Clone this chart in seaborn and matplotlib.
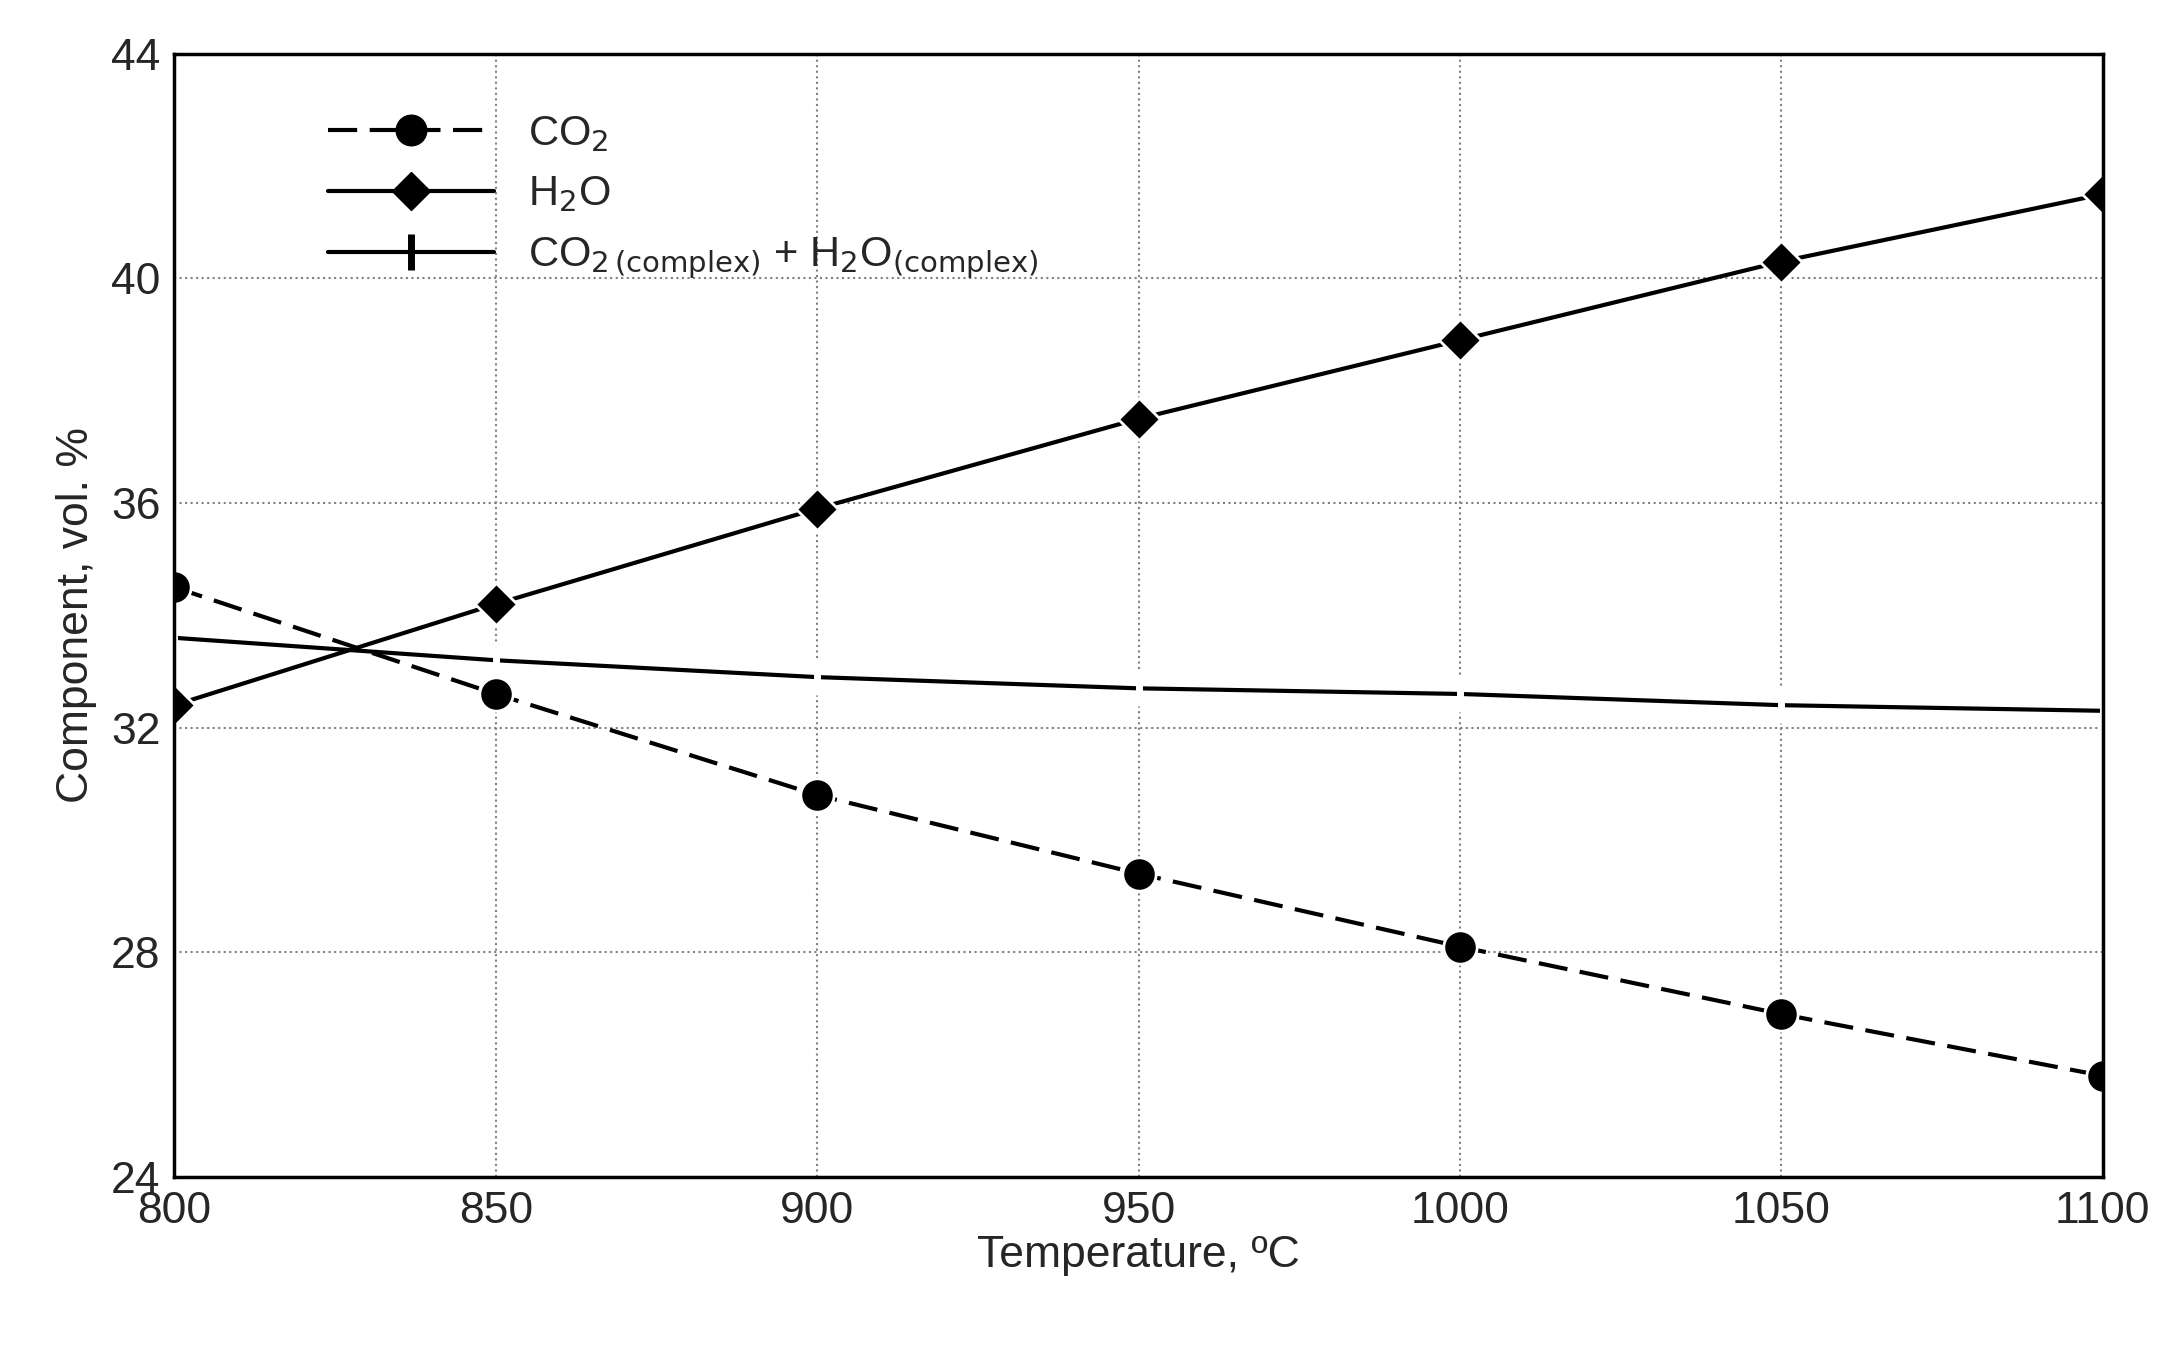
import matplotlib
matplotlib.use("Agg")
import matplotlib.pyplot as plt
import seaborn as sns
import pandas as pd
from matplotlib.lines import Line2D

temperature = [800, 850, 900, 950, 1000, 1050, 1100]
co2 = [34.5, 32.6, 30.8, 29.4, 28.1, 26.9, 25.8]
h2o = [32.4, 34.2, 35.9, 37.5, 38.9, 40.3, 41.5]
complex_sum = [33.6, 33.2, 32.9, 32.7, 32.6, 32.4, 32.3]

df = pd.DataFrame({"T": temperature, "CO2": co2, "H2O": h2o, "complex": complex_sum})

sns.set_style("white")
plt.rcParams["font.family"] = ["Liberation Sans", "DejaVu Sans"]

fig = plt.figure(figsize=(21.79, 13.45), dpi=100)
ax = fig.add_axes([0.08, 0.125, 0.885, 0.835])

sns.lineplot(data=df, x="T", y="CO2", ax=ax, color="black", lw=3, linestyle=(0, (7, 3)),
             marker="o", markersize=24, markeredgecolor="white", markeredgewidth=2)
sns.lineplot(data=df, x="T", y="H2O", ax=ax, color="black", lw=3,
             marker="D", markersize=21, markeredgecolor="white", markeredgewidth=2)
sns.lineplot(data=df, x="T", y="complex", ax=ax, color="black", lw=3,
             marker="|", markersize=26, markeredgewidth=5)

ax.set_xlim(800, 1100)
ax.set_ylim(24, 44)
ax.set_xticks(temperature)
ax.set_yticks([24, 28, 32, 36, 40, 44])
ax.tick_params(labelsize=32, length=0, pad=10)
ax.grid(True, linestyle=":", color="gray", lw=1.5)
for s in ax.spines.values():
    s.set_color("black")
    s.set_linewidth(2.5)
ax.set_xlabel("Temperature, ºC", fontsize=32, labelpad=2)
ax.set_ylabel("Component, vol. %", fontsize=32, labelpad=10)

handles = [
    Line2D([], [], color="black", lw=3, linestyle=(0, (7, 3)), marker="o", markersize=22),
    Line2D([], [], color="black", lw=3, marker="D", markersize=19),
    Line2D([], [], color="black", lw=3, marker="|", markersize=26, markeredgewidth=5),
]
labels = ["CO$_2$", "H$_2$O", "CO$_{2\\,\\mathrm{(complex)}}$ + H$_2$O$_{\\mathrm{(complex)}}$"]
ax.legend(handles, labels, loc="upper left", bbox_to_anchor=(0.06, 0.98), frameon=False,
          fontsize=30, handlelength=4)

fig.savefig("out.png", dpi=100)
